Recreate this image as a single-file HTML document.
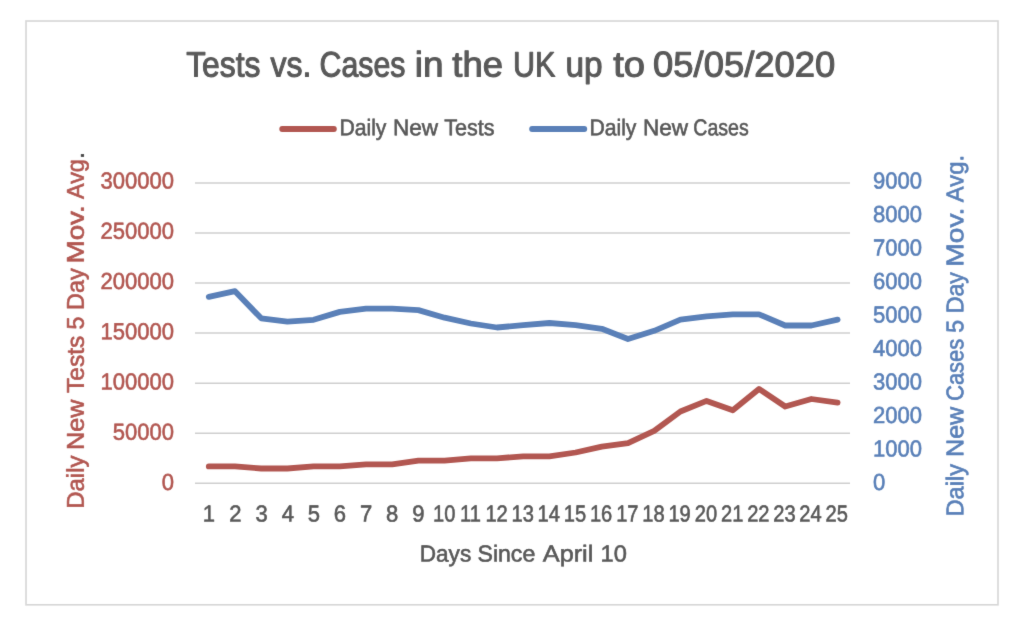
<!DOCTYPE html>
<html lang="en"><head><meta charset="utf-8"><title>Tests vs. Cases in the UK up to 05/05/2020</title>
<style>
html,body{margin:0;padding:0;background:#fff;}
body{width:1024px;height:622px;overflow:hidden;}
svg{display:block;}
text{font-family:"Liberation Sans",sans-serif;text-rendering:geometricPrecision;}
</style></head><body>
<svg width="1024" height="622" viewBox="0 0 1024 622">
<defs><filter id="soft" x="0" y="0" width="1024" height="622" filterUnits="userSpaceOnUse" color-interpolation-filters="sRGB"><feConvolveMatrix order="3" kernelMatrix="0.00810 0.07380 0.00810 0.07380 0.67240 0.07380 0.00810 0.07380 0.00810" divisor="1" edgeMode="duplicate" preserveAlpha="false"/></filter></defs>
<rect x="0" y="0" width="1024" height="622" fill="#ffffff"/>
<g filter="url(#soft)">
<rect x="26.0" y="21.0" width="972.0" height="583.8" fill="#ffffff" stroke="#D6D6D6" stroke-width="1.6"/>

<g stroke="#CFCFCF" stroke-width="1.5">
<line x1="195.0" y1="183.00" x2="850.0" y2="183.00"/>
<line x1="195.0" y1="233.04" x2="850.0" y2="233.04"/>
<line x1="195.0" y1="283.08" x2="850.0" y2="283.08"/>
<line x1="195.0" y1="333.12" x2="850.0" y2="333.12"/>
<line x1="195.0" y1="383.16" x2="850.0" y2="383.16"/>
<line x1="195.0" y1="433.20" x2="850.0" y2="433.20"/>
<line x1="195.0" y1="483.24" x2="850.0" y2="483.24"/>
</g>
<polyline points="208.8,296.8 235.0,291.2 261.2,318.3 287.4,321.7 313.6,319.8 339.8,311.9 366.0,308.6 392.2,308.6 418.4,310.1 444.6,317.7 470.8,323.5 497.0,327.5 523.2,325.2 549.4,323.0 575.6,325.2 601.8,328.8 628.0,339.0 654.2,330.8 680.4,319.7 706.6,316.4 732.8,314.3 759.0,314.3 785.2,325.5 811.4,325.5 837.6,319.7" fill="none" stroke="#5A80B8" stroke-width="5.8" stroke-linecap="round" stroke-linejoin="round"/>
<polyline points="208.8,466.4 235.0,466.4 261.2,468.5 287.4,468.5 313.6,466.4 339.8,466.4 366.0,464.4 392.2,464.4 418.4,460.6 444.6,460.6 470.8,458.3 497.0,458.3 523.2,456.3 549.4,456.3 575.6,452.5 601.8,446.6 628.0,443.2 654.2,430.9 680.4,411.5 706.6,400.9 732.8,410.3 759.0,388.9 785.2,406.5 811.4,399.0 837.6,402.6" fill="none" stroke="#B25751" stroke-width="5.8" stroke-linecap="round" stroke-linejoin="round"/>
<line x1="282.2" y1="129.0" x2="333.9" y2="129.0" stroke="#B25751" stroke-width="5.8" stroke-linecap="round"/>
<line x1="532.1" y1="129.0" x2="584.3" y2="129.0" stroke="#5A80B8" stroke-width="5.8" stroke-linecap="round"/>
<text transform="translate(0,76.45) matrix(1,0.001,0,1,0,0)" font-size="35.4" fill="#595959" stroke="#595959" stroke-width="1.06" stroke-linejoin="round"><tspan x="186.19" y="-0.223" textLength="74.36" lengthAdjust="spacingAndGlyphs">Tests</tspan> <tspan x="270.57" y="-0.291" textLength="40.87" lengthAdjust="spacingAndGlyphs">vs.</tspan> <tspan x="319.62" y="-0.363" textLength="85.90" lengthAdjust="spacingAndGlyphs">Cases</tspan> <tspan x="414.83" y="-0.429" textLength="28.77" lengthAdjust="spacingAndGlyphs">in</tspan> <tspan x="452.28" y="-0.478" textLength="50.63" lengthAdjust="spacingAndGlyphs">the</tspan> <tspan x="512.94" y="-0.534" textLength="42.47" lengthAdjust="spacingAndGlyphs">UK</tspan> <tspan x="565.56" y="-0.584" textLength="37.12" lengthAdjust="spacingAndGlyphs">up</tspan> <tspan x="613.16" y="-0.629" textLength="31.80" lengthAdjust="spacingAndGlyphs">to</tspan> <tspan x="653.07" y="-0.744" textLength="182.27" lengthAdjust="spacingAndGlyphs">05/05/2020</tspan></text>
<text transform="translate(0,135.35) matrix(1,0.001,0,1,0,0)" font-size="22.8" fill="#595959" stroke="#595959" stroke-width="0.59" stroke-linejoin="round"><tspan x="339.40" y="-0.363" textLength="47.05" lengthAdjust="spacingAndGlyphs">Daily</tspan> <tspan x="392.89" y="-0.415" textLength="45.21" lengthAdjust="spacingAndGlyphs">New</tspan> <tspan x="444.27" y="-0.469" textLength="50.27" lengthAdjust="spacingAndGlyphs">Tests</tspan></text>
<text transform="translate(0,135.35) matrix(1,0.001,0,1,0,0)" font-size="22.8" fill="#595959" stroke="#595959" stroke-width="0.59" stroke-linejoin="round"><tspan x="589.40" y="-0.613" textLength="47.05" lengthAdjust="spacingAndGlyphs">Daily</tspan> <tspan x="642.89" y="-0.665" textLength="45.21" lengthAdjust="spacingAndGlyphs">New</tspan> <tspan x="693.32" y="-0.721" textLength="55.36" lengthAdjust="spacingAndGlyphs">Cases</tspan></text>
<text transform="translate(0,188.45) matrix(1,0.001,0,1,0,0)" font-size="23.1" fill="#B25751" stroke="#B25751" stroke-width="0.60" stroke-linejoin="round"><tspan x="100.58" y="-0.137" textLength="73.54" lengthAdjust="spacingAndGlyphs">300000</tspan></text>
<text transform="translate(0,238.69) matrix(1,0.001,0,1,0,0)" font-size="23.1" fill="#B25751" stroke="#B25751" stroke-width="0.60" stroke-linejoin="round"><tspan x="100.58" y="-0.137" textLength="73.54" lengthAdjust="spacingAndGlyphs">250000</tspan></text>
<text transform="translate(0,288.93) matrix(1,0.001,0,1,0,0)" font-size="23.1" fill="#B25751" stroke="#B25751" stroke-width="0.60" stroke-linejoin="round"><tspan x="100.58" y="-0.137" textLength="73.54" lengthAdjust="spacingAndGlyphs">200000</tspan></text>
<text transform="translate(0,339.17) matrix(1,0.001,0,1,0,0)" font-size="23.1" fill="#B25751" stroke="#B25751" stroke-width="0.60" stroke-linejoin="round"><tspan x="100.58" y="-0.137" textLength="73.54" lengthAdjust="spacingAndGlyphs">150000</tspan></text>
<text transform="translate(0,389.42) matrix(1,0.001,0,1,0,0)" font-size="23.1" fill="#B25751" stroke="#B25751" stroke-width="0.60" stroke-linejoin="round"><tspan x="100.58" y="-0.137" textLength="73.54" lengthAdjust="spacingAndGlyphs">100000</tspan></text>
<text transform="translate(0,439.66) matrix(1,0.001,0,1,0,0)" font-size="23.1" fill="#B25751" stroke="#B25751" stroke-width="0.60" stroke-linejoin="round"><tspan x="112.81" y="-0.143" textLength="61.28" lengthAdjust="spacingAndGlyphs">50000</tspan></text>
<text transform="translate(0,489.90) matrix(1,0.001,0,1,0,0)" font-size="23.1" fill="#B25751" stroke="#B25751" stroke-width="0.60" stroke-linejoin="round"><tspan x="161.84" y="-0.168" textLength="12.26" lengthAdjust="spacingAndGlyphs">0</tspan></text>
<text transform="translate(0,188.45) matrix(1,0.001,0,1,0,0)" font-size="23.1" fill="#5A80B8" stroke="#5A80B8" stroke-width="0.60" stroke-linejoin="round"><tspan x="872.92" y="-0.897" textLength="49.03" lengthAdjust="spacingAndGlyphs">9000</tspan></text>
<text transform="translate(0,221.95) matrix(1,0.001,0,1,0,0)" font-size="23.1" fill="#5A80B8" stroke="#5A80B8" stroke-width="0.60" stroke-linejoin="round"><tspan x="872.92" y="-0.897" textLength="49.03" lengthAdjust="spacingAndGlyphs">8000</tspan></text>
<text transform="translate(0,255.45) matrix(1,0.001,0,1,0,0)" font-size="23.1" fill="#5A80B8" stroke="#5A80B8" stroke-width="0.60" stroke-linejoin="round"><tspan x="872.92" y="-0.897" textLength="49.03" lengthAdjust="spacingAndGlyphs">7000</tspan></text>
<text transform="translate(0,288.95) matrix(1,0.001,0,1,0,0)" font-size="23.1" fill="#5A80B8" stroke="#5A80B8" stroke-width="0.60" stroke-linejoin="round"><tspan x="872.92" y="-0.897" textLength="49.03" lengthAdjust="spacingAndGlyphs">6000</tspan></text>
<text transform="translate(0,322.45) matrix(1,0.001,0,1,0,0)" font-size="23.1" fill="#5A80B8" stroke="#5A80B8" stroke-width="0.60" stroke-linejoin="round"><tspan x="872.92" y="-0.897" textLength="49.03" lengthAdjust="spacingAndGlyphs">5000</tspan></text>
<text transform="translate(0,355.95) matrix(1,0.001,0,1,0,0)" font-size="23.1" fill="#5A80B8" stroke="#5A80B8" stroke-width="0.60" stroke-linejoin="round"><tspan x="872.92" y="-0.897" textLength="49.03" lengthAdjust="spacingAndGlyphs">4000</tspan></text>
<text transform="translate(0,389.45) matrix(1,0.001,0,1,0,0)" font-size="23.1" fill="#5A80B8" stroke="#5A80B8" stroke-width="0.60" stroke-linejoin="round"><tspan x="872.92" y="-0.897" textLength="49.03" lengthAdjust="spacingAndGlyphs">3000</tspan></text>
<text transform="translate(0,422.95) matrix(1,0.001,0,1,0,0)" font-size="23.1" fill="#5A80B8" stroke="#5A80B8" stroke-width="0.60" stroke-linejoin="round"><tspan x="872.92" y="-0.897" textLength="49.03" lengthAdjust="spacingAndGlyphs">2000</tspan></text>
<text transform="translate(0,456.45) matrix(1,0.001,0,1,0,0)" font-size="23.1" fill="#5A80B8" stroke="#5A80B8" stroke-width="0.60" stroke-linejoin="round"><tspan x="872.92" y="-0.897" textLength="49.03" lengthAdjust="spacingAndGlyphs">1000</tspan></text>
<text transform="translate(0,489.95) matrix(1,0.001,0,1,0,0)" font-size="23.1" fill="#5A80B8" stroke="#5A80B8" stroke-width="0.60" stroke-linejoin="round"><tspan x="872.92" y="-0.879" textLength="12.26" lengthAdjust="spacingAndGlyphs">0</tspan></text>
<text transform="translate(0,521.60) matrix(1,0.001,0,1,0,0)" font-size="23.1" fill="#595959" stroke="#595959" stroke-width="0.60" stroke-linejoin="round"><tspan x="202.75" y="-0.209" textLength="12.26" lengthAdjust="spacingAndGlyphs">1</tspan></text>
<text transform="translate(0,521.60) matrix(1,0.001,0,1,0,0)" font-size="23.1" fill="#595959" stroke="#595959" stroke-width="0.60" stroke-linejoin="round"><tspan x="229.23" y="-0.235" textLength="12.26" lengthAdjust="spacingAndGlyphs">2</tspan></text>
<text transform="translate(0,521.60) matrix(1,0.001,0,1,0,0)" font-size="23.1" fill="#595959" stroke="#595959" stroke-width="0.60" stroke-linejoin="round"><tspan x="255.38" y="-0.262" textLength="12.26" lengthAdjust="spacingAndGlyphs">3</tspan></text>
<text transform="translate(0,521.60) matrix(1,0.001,0,1,0,0)" font-size="23.1" fill="#595959" stroke="#595959" stroke-width="0.60" stroke-linejoin="round"><tspan x="281.64" y="-0.288" textLength="12.26" lengthAdjust="spacingAndGlyphs">4</tspan></text>
<text transform="translate(0,521.60) matrix(1,0.001,0,1,0,0)" font-size="23.1" fill="#595959" stroke="#595959" stroke-width="0.60" stroke-linejoin="round"><tspan x="307.68" y="-0.314" textLength="12.26" lengthAdjust="spacingAndGlyphs">5</tspan></text>
<text transform="translate(0,521.60) matrix(1,0.001,0,1,0,0)" font-size="23.1" fill="#595959" stroke="#595959" stroke-width="0.60" stroke-linejoin="round"><tspan x="333.72" y="-0.340" textLength="12.26" lengthAdjust="spacingAndGlyphs">6</tspan></text>
<text transform="translate(0,521.60) matrix(1,0.001,0,1,0,0)" font-size="23.1" fill="#595959" stroke="#595959" stroke-width="0.60" stroke-linejoin="round"><tspan x="359.98" y="-0.366" textLength="12.26" lengthAdjust="spacingAndGlyphs">7</tspan></text>
<text transform="translate(0,521.60) matrix(1,0.001,0,1,0,0)" font-size="23.1" fill="#595959" stroke="#595959" stroke-width="0.60" stroke-linejoin="round"><tspan x="386.08" y="-0.392" textLength="12.26" lengthAdjust="spacingAndGlyphs">8</tspan></text>
<text transform="translate(0,521.60) matrix(1,0.001,0,1,0,0)" font-size="23.1" fill="#595959" stroke="#595959" stroke-width="0.60" stroke-linejoin="round"><tspan x="412.28" y="-0.418" textLength="12.26" lengthAdjust="spacingAndGlyphs">9</tspan></text>
<text transform="translate(0,521.60) matrix(1,0.001,0,1,0,0)" font-size="23.1" fill="#595959" stroke="#595959" stroke-width="0.60" stroke-linejoin="round"><tspan x="432.99" y="-0.444" textLength="22.35" lengthAdjust="spacingAndGlyphs">10</tspan></text>
<text transform="translate(0,521.60) matrix(1,0.001,0,1,0,0)" font-size="23.1" fill="#595959" stroke="#595959" stroke-width="0.60" stroke-linejoin="round"><tspan x="460.00" y="-0.470" textLength="20.86" lengthAdjust="spacingAndGlyphs">11</tspan></text>
<text transform="translate(0,521.60) matrix(1,0.001,0,1,0,0)" font-size="23.1" fill="#595959" stroke="#595959" stroke-width="0.60" stroke-linejoin="round"><tspan x="485.44" y="-0.497" textLength="22.35" lengthAdjust="spacingAndGlyphs">12</tspan></text>
<text transform="translate(0,521.60) matrix(1,0.001,0,1,0,0)" font-size="23.1" fill="#595959" stroke="#595959" stroke-width="0.60" stroke-linejoin="round"><tspan x="511.49" y="-0.523" textLength="22.35" lengthAdjust="spacingAndGlyphs">13</tspan></text>
<text transform="translate(0,521.60) matrix(1,0.001,0,1,0,0)" font-size="23.1" fill="#595959" stroke="#595959" stroke-width="0.60" stroke-linejoin="round"><tspan x="537.54" y="-0.549" textLength="22.35" lengthAdjust="spacingAndGlyphs">14</tspan></text>
<text transform="translate(0,521.60) matrix(1,0.001,0,1,0,0)" font-size="23.1" fill="#595959" stroke="#595959" stroke-width="0.60" stroke-linejoin="round"><tspan x="563.79" y="-0.575" textLength="22.35" lengthAdjust="spacingAndGlyphs">15</tspan></text>
<text transform="translate(0,521.60) matrix(1,0.001,0,1,0,0)" font-size="23.1" fill="#595959" stroke="#595959" stroke-width="0.60" stroke-linejoin="round"><tspan x="589.94" y="-0.601" textLength="22.35" lengthAdjust="spacingAndGlyphs">16</tspan></text>
<text transform="translate(0,521.60) matrix(1,0.001,0,1,0,0)" font-size="23.1" fill="#595959" stroke="#595959" stroke-width="0.60" stroke-linejoin="round"><tspan x="616.19" y="-0.627" textLength="22.35" lengthAdjust="spacingAndGlyphs">17</tspan></text>
<text transform="translate(0,521.60) matrix(1,0.001,0,1,0,0)" font-size="23.1" fill="#595959" stroke="#595959" stroke-width="0.60" stroke-linejoin="round"><tspan x="642.24" y="-0.653" textLength="22.35" lengthAdjust="spacingAndGlyphs">18</tspan></text>
<text transform="translate(0,521.60) matrix(1,0.001,0,1,0,0)" font-size="23.1" fill="#595959" stroke="#595959" stroke-width="0.60" stroke-linejoin="round"><tspan x="668.44" y="-0.680" textLength="22.35" lengthAdjust="spacingAndGlyphs">19</tspan></text>
<text transform="translate(0,521.60) matrix(1,0.001,0,1,0,0)" font-size="23.1" fill="#595959" stroke="#595959" stroke-width="0.60" stroke-linejoin="round"><tspan x="694.75" y="-0.706" textLength="22.35" lengthAdjust="spacingAndGlyphs">20</tspan></text>
<text transform="translate(0,521.60) matrix(1,0.001,0,1,0,0)" font-size="23.1" fill="#595959" stroke="#595959" stroke-width="0.60" stroke-linejoin="round"><tspan x="721.00" y="-0.732" textLength="22.35" lengthAdjust="spacingAndGlyphs">21</tspan></text>
<text transform="translate(0,521.60) matrix(1,0.001,0,1,0,0)" font-size="23.1" fill="#595959" stroke="#595959" stroke-width="0.60" stroke-linejoin="round"><tspan x="747.20" y="-0.758" textLength="22.35" lengthAdjust="spacingAndGlyphs">22</tspan></text>
<text transform="translate(0,521.60) matrix(1,0.001,0,1,0,0)" font-size="23.1" fill="#595959" stroke="#595959" stroke-width="0.60" stroke-linejoin="round"><tspan x="773.25" y="-0.784" textLength="22.35" lengthAdjust="spacingAndGlyphs">23</tspan></text>
<text transform="translate(0,521.60) matrix(1,0.001,0,1,0,0)" font-size="23.1" fill="#595959" stroke="#595959" stroke-width="0.60" stroke-linejoin="round"><tspan x="799.30" y="-0.810" textLength="22.35" lengthAdjust="spacingAndGlyphs">24</tspan></text>
<text transform="translate(0,521.60) matrix(1,0.001,0,1,0,0)" font-size="23.1" fill="#595959" stroke="#595959" stroke-width="0.60" stroke-linejoin="round"><tspan x="825.55" y="-0.837" textLength="22.35" lengthAdjust="spacingAndGlyphs">25</tspan></text>
<text transform="translate(0,561.40) matrix(1,0.001,0,1,0,0)" font-size="23.1" fill="#595959" stroke="#595959" stroke-width="0.60" stroke-linejoin="round"><tspan x="419.74" y="-0.445" textLength="51.46" lengthAdjust="spacingAndGlyphs">Days</tspan> <tspan x="477.51" y="-0.506" textLength="57.76" lengthAdjust="spacingAndGlyphs">Since</tspan> <tspan x="542.80" y="-0.568" textLength="50.56" lengthAdjust="spacingAndGlyphs">April</tspan> <tspan x="600.53" y="-0.614" textLength="26.31" lengthAdjust="spacingAndGlyphs">10</tspan></text>
<text transform="translate(83.70,0) rotate(-90) matrix(1,0.001,0,1,0,0)" font-size="24.2" fill="#B25751" stroke="#B25751" stroke-width="0.63" stroke-linejoin="round"><tspan x="-508.70" y="0.482" textLength="53.13" lengthAdjust="spacingAndGlyphs">Daily</tspan> <tspan x="-449.90" y="0.425" textLength="50.48" lengthAdjust="spacingAndGlyphs">New</tspan> <tspan x="-392.98" y="0.364" textLength="57.19" lengthAdjust="spacingAndGlyphs">Tests</tspan> <tspan x="-329.55" y="0.323" textLength="12.79" lengthAdjust="spacingAndGlyphs">5</tspan> <tspan x="-310.06" y="0.289" textLength="41.71" lengthAdjust="spacingAndGlyphs">Day</tspan> <tspan x="-263.51" y="0.234" textLength="58.17" lengthAdjust="spacingAndGlyphs">Mov.</tspan> <tspan x="-199.09" y="0.179" textLength="40.00" lengthAdjust="spacingAndGlyphs">Avg</tspan><tspan x="-158.41" y="0.155" textLength="6.39" lengthAdjust="spacingAndGlyphs" fill="#444444" stroke="#444444">.</tspan></text>
<text transform="translate(963.20,0) rotate(-90) matrix(1,0.001,0,1,0,0)" font-size="24.2" fill="#5A80B8" stroke="#5A80B8" stroke-width="0.63" stroke-linejoin="round"><tspan x="-516.48" y="0.490" textLength="52.61" lengthAdjust="spacingAndGlyphs">Daily</tspan> <tspan x="-456.99" y="0.432" textLength="50.17" lengthAdjust="spacingAndGlyphs">New</tspan> <tspan x="-400.78" y="0.370" textLength="61.81" lengthAdjust="spacingAndGlyphs">Cases</tspan> <tspan x="-332.83" y="0.326" textLength="12.79" lengthAdjust="spacingAndGlyphs">5</tspan> <tspan x="-313.24" y="0.293" textLength="41.19" lengthAdjust="spacingAndGlyphs">Day</tspan> <tspan x="-266.74" y="0.237" textLength="59.05" lengthAdjust="spacingAndGlyphs">Mov.</tspan> <tspan x="-202.19" y="0.179" textLength="47.18" lengthAdjust="spacingAndGlyphs">Avg.</tspan></text>
</g>
</svg></body></html>
